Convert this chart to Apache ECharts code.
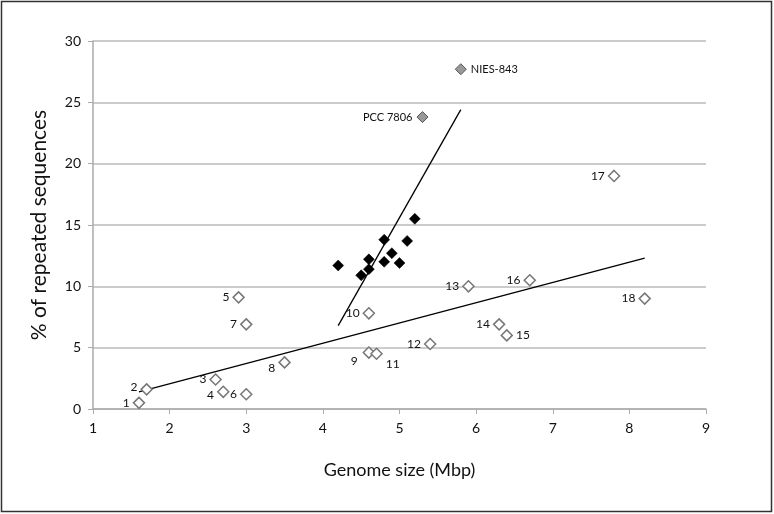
<!DOCTYPE html>
<html><head><meta charset="utf-8">
<script src="https://cdn.jsdelivr.net/npm/echarts@6/dist/echarts.min.js"></script>
<style>html,body{margin:0;padding:0;background:#fff}#c{width:774px;height:514px}</style>
</head><body><div id="c"></div>
<script>
// Open diamonds (numbered genomes)
const openLabels = ['1','2','3','4','5','6','7','8','9','10','11','12','13','14','15','16','17','18'];
const openX = [1.6, 1.7, 2.6, 2.7, 2.9, 3.0, 3.0, 3.5, 4.6, 4.6, 4.7, 5.4, 5.9, 6.3, 6.4, 6.7, 7.8, 8.2];
const openY = [0.5, 1.6, 2.4, 1.4, 9.1, 1.2, 6.9, 3.8, 4.6, 7.8, 4.5, 5.3, 10.0, 6.9, 6.0, 10.5, 19.0, 9.0];
// Filled black diamonds
const blackX = [4.2, 4.5, 4.6, 4.6, 4.8, 4.8, 4.9, 5.0, 5.1, 5.2];
const blackY = [11.7, 10.9, 12.2, 11.4, 13.8, 12.0, 12.7, 11.9, 13.7, 15.5];
// Gray diamonds (named strains)
const grayLabels = ['PCC 7806', 'NIES-843'];
const grayX = [5.3, 5.8];
const grayY = [23.8, 27.7];
// Trendlines (endpoints)
const trendSteepX = [4.2, 5.8];
const trendSteepY = [6.8, 24.4];
const trendShallowX = [1.6, 8.2];
const trendShallowY = [1.4, 12.3];
// Axis ticks
const xTicks = [1, 2, 3, 4, 5, 6, 7, 8, 9];
const yTicks = [0, 5, 10, 15, 20, 25, 30];

// label placement (style only)
const placement = {
  '8': {position: 'left', offset: [0, 6]},
  '4': {position: 'left', offset: [0, 3]},
  '2': {position: 'left', offset: [0, -2]},
  '9': {position: 'left', offset: [-2, 9]},
  '11': {position: 'right', offset: [0, 10]},
  '15': {position: 'right', offset: [0, 0]}
};
const FONT = 'Lato, "Open Sans", sans-serif';
const openData = openX.map((x, i) => {
  const p = placement[openLabels[i]] || {position: 'left', offset: [0, 0]};
  return {value: [x, openY[i]], name: openLabels[i],
    label: {show: true, formatter: openLabels[i], position: p.position, offset: p.offset, distance: 3,
      color: '#111', fontSize: 12, fontFamily: FONT}};
});
const grayData = grayX.map((x, i) => ({value: [x, grayY[i]], name: grayLabels[i],
  label: {show: true, formatter: grayLabels[i], position: i === 0 ? 'left' : 'right', distance: 4,
    color: '#111', fontSize: 11, fontFamily: FONT}}));
const blackData = blackX.map((x, i) => [x, blackY[i]]);

const chart = echarts.init(document.getElementById('c'), null, {renderer: 'canvas'});
chart.setOption({
  animation: false,
  backgroundColor: '#fff',
  grid: {left: 93, right: 68, top: 41, bottom: 105},
  graphic: [{type: 'rect', shape: {x: 1.5, y: 1.5, width: 770, height: 510}, style: {fill: 'none', stroke: '#333', lineWidth: 1.5}, silent: true}],
  xAxis: {
    type: 'value', min: xTicks[0], max: xTicks[xTicks.length - 1], interval: 1,
    name: 'Genome size (Mbp)', nameLocation: 'middle', nameGap: 52,
    nameTextStyle: {fontSize: 18, color: '#111', fontFamily: FONT},
    axisLine: {show: true, lineStyle: {color: '#aaa', width: 1.5}},
    axisTick: {show: true, length: 5, lineStyle: {color: '#aaa'}},
    axisLabel: {fontSize: 14, color: '#111', margin: 12, fontFamily: FONT},
    splitLine: {show: false}
  },
  yAxis: {
    type: 'value', min: yTicks[0], max: yTicks[yTicks.length - 1], interval: 5,
    name: '% of repeated sequences', nameLocation: 'middle', nameGap: 43, nameRotate: 90,
    nameTextStyle: {fontSize: 21, color: '#111', fontFamily: FONT},
    axisLine: {show: true, lineStyle: {color: '#aaa', width: 1.5}},
    axisTick: {show: true, length: 5, lineStyle: {color: '#aaa'}},
    axisLabel: {fontSize: 14, color: '#111', margin: 12, fontFamily: FONT},
    splitLine: {show: true, lineStyle: {color: '#bbb', width: 1.5}}
  },
  series: [
    {type: 'line', data: trendShallowX.map((x, i) => [x, trendShallowY[i]]), showSymbol: false, symbol: 'none',
      lineStyle: {color: '#000', width: 1.3}, z: 2},
    {type: 'line', data: trendSteepX.map((x, i) => [x, trendSteepY[i]]), showSymbol: false, symbol: 'none',
      lineStyle: {color: '#000', width: 1.3}, z: 2},
    {type: 'scatter', data: openData, symbol: 'diamond', symbolSize: 11,
      itemStyle: {color: '#fff', borderColor: '#777', borderWidth: 1.5, opacity: 1}, z: 3},
    {type: 'scatter', data: blackData, symbol: 'diamond', symbolSize: 11,
      itemStyle: {color: '#000', borderColor: '#000', borderWidth: 0.5, opacity: 1}, z: 3},
    {type: 'scatter', data: grayData, symbol: 'diamond', symbolSize: 11,
      itemStyle: {color: '#999', borderColor: '#555', borderWidth: 1, opacity: 1}, z: 3}
  ]
});
</script></body></html>
